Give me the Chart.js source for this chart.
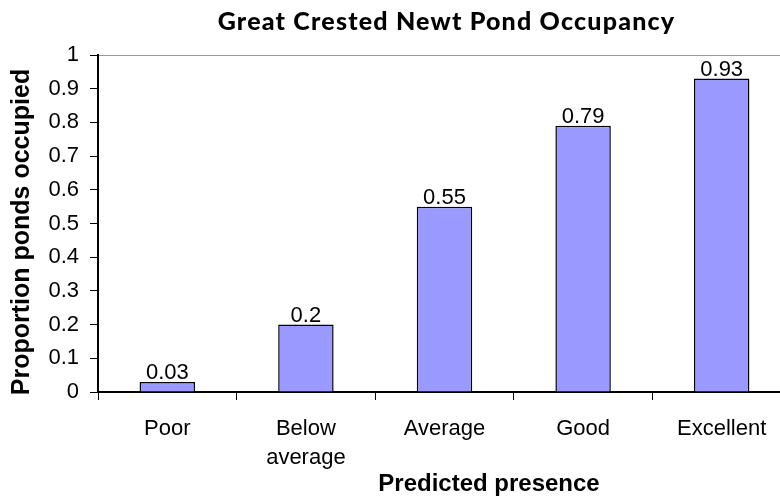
<!DOCTYPE html>
<html>
<head>
<meta charset="utf-8">
<script src="https://cdn.jsdelivr.net/npm/chart.js@4/dist/chart.umd.min.js"></script>
<style>
  html, body { margin: 0; padding: 0; background: #fff; overflow: hidden; width: 780px; height: 498px; }
  #wrap { position: absolute; left: 0; top: 0; width: 791px; height: 498px; }
</style>
</head>
<body>
<div id="wrap"><canvas id="newtChart"></canvas></div>
<script>
// chart data
const categories = ["Poor", ["Below", "average"], "Average", "Good", "Excellent"];
const occupancy = [0.03, 0.2, 0.55, 0.79, 0.93];
const yTicks = [0, 0.1, 0.2, 0.3, 0.4, 0.5, 0.6, 0.7, 0.8, 0.9, 1];

const chartTitle = "Great Crested Newt Pond Occupancy";
const xTitle = "Predicted presence";
const yTitle = "Proportion ponds occupied";

const arial = "'Liberation Sans', Arial, sans-serif";

// value labels above bars + chart/axis titles
const labelsPlugin = {
    id: "labelsPlugin",
    afterDatasetsDraw(chart) {
        const ctx = chart.ctx;
        const area = chart.chartArea;
        ctx.save();
        ctx.fillStyle = "#000";
        ctx.font = "22px " + arial;
        ctx.textAlign = "center";
        ctx.textBaseline = "alphabetic";
        chart.getDatasetMeta(0).data.forEach((bar, i) => {
            ctx.fillText(String(occupancy[i]), bar.x, bar.y - 3);
        });

        ctx.font = "900 25px Lato, sans-serif";
        ctx.letterSpacing = "1.2px";
        ctx.textBaseline = "middle";
        ctx.fillText(chartTitle, (area.left + area.right) / 2 + 2, 22);
        ctx.letterSpacing = "0px";

        ctx.font = "bold 24px " + arial;
        ctx.fillText(xTitle, 489, 484);

        ctx.font = "bold 25px " + arial;
        ctx.translate(22, 232);
        ctx.rotate(-Math.PI / 2);
        ctx.fillText(yTitle, 0, 0);
        ctx.restore();
    },
};

const ctx = document.getElementById("newtChart").getContext("2d");
new Chart(ctx, {
    type: "bar",
    data: {
        labels: categories,
        datasets: [
            {
                data: occupancy,
                backgroundColor: "#9999ff",
                borderColor: "#000",
                borderWidth: 1.5,
                categoryPercentage: 1,
                barPercentage: 0.4,
            },
        ],
    },
    options: {
        responsive: true,
        maintainAspectRatio: false,
        animation: false,
        layout: { padding: { top: 55, right: 0, bottom: 0, left: 0 } },
        plugins: {
            legend: { display: false },
            tooltip: { enabled: false },
        },
        scales: {
            x: {
                afterFit: (scale) => { scale.height = 106; },
                grid: {
                    offset: true,
                    drawOnChartArea: false,
                    tickLength: 8,
                    tickColor: "#000",
                    lineWidth: 1,
                },
                border: { color: "#000", width: 2 },
                ticks: {
                    color: "#000",
                    padding: 15,
                    maxRotation: 0,
                    font: { family: arial, size: 22, lineHeight: 1.3 },
                },
            },
            y: {
                min: 0,
                max: 1,
                afterFit: (scale) => { scale.width = 98; },
                afterBuildTicks: (scale) => {
                    scale.ticks = yTicks.map((v) => ({ value: v }));
                },
                grid: {
                    color: (c) => (c.tick && Math.abs(c.tick.value - 1) < 1e-6 ? "#999" : "rgba(0,0,0,0)"),
                    tickColor: "#000",
                    tickLength: 8,
                    lineWidth: 1,
                },
                border: { color: "#000", width: 2 },
                ticks: {
                    color: "#000",
                    padding: 11,
                    font: { family: arial, size: 22 },
                    callback: (v) => String(Number(v.toFixed(1))),
                },
            },
        },
    },
    plugins: [labelsPlugin],
});
</script>
</body>
</html>
